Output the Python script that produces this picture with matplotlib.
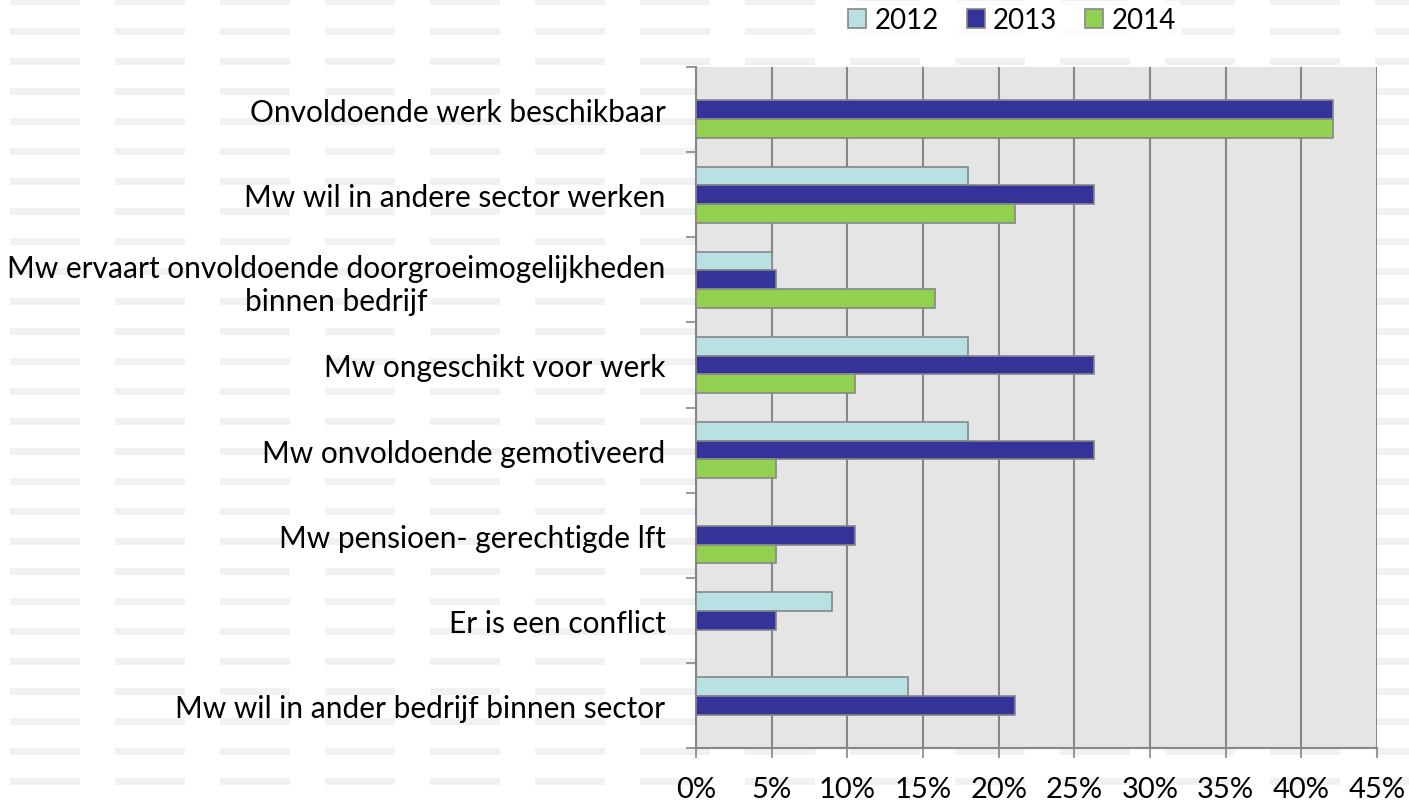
import numpy as np
import matplotlib
matplotlib.use('Agg')
import matplotlib.pyplot as plt
from matplotlib.patches import Rectangle

plt.rcParams['font.family'] = ['Lato', 'DejaVu Sans']

# data (percentages)
categories = ['Onvoldoende werk beschikbaar',
              'Mw wil in andere sector werken',
              'Mw ervaart onvoldoende doorgroeimogelijkheden\nbinnen bedrijf',
              'Mw ongeschikt voor werk',
              'Mw onvoldoende gemotiveerd',
              'Mw pensioen- gerechtigde lft',
              'Er is een conflict',
              'Mw wil in ander bedrijf binnen sector']
years = ['2012', '2013', '2014']
v2012 = [0, 18.0, 5.0, 18.0, 18.0, 0, 9.0, 14.0]
v2013 = [42.1, 26.3, 5.3, 26.3, 26.3, 10.5, 5.3, 21.05]
v2014 = [42.1, 21.05, 15.8, 10.5, 5.3, 5.3, 0, 0]
colors = ['#b9e0e3', '#333399', '#92d050']

W, H = 1409, 804
fig = plt.figure(figsize=(W / 100, H / 100), dpi=100)

# slide background with light dashes
bg = fig.add_axes([0, 0, 1, 1], zorder=-10)
bg.set_xlim(0, W)
bg.set_ylim(H, 0)
bg.axis('off')
for x0 in range(10, W, 105):
    for y0 in range(-1, H, 30):
        bg.add_patch(Rectangle((x0, y0), 70, 7, color='#f1f1f1', lw=0))

ax = fig.add_axes([696 / W, 1 - 749 / H, (1377 - 696) / W, (749 - 68) / H])
ax.set_facecolor('#e5e5e5')

y = np.arange(len(categories))
h = 0.22
for k, vals in enumerate([v2012, v2013, v2014]):
    ax.barh(y + (k - 1) * h, vals, height=h, color=colors[k],
            edgecolor='#878787', linewidth=1.2, label=years[k], zorder=3)

ax.set_xlim(0, 45)
ax.set_ylim(len(categories) - 0.5, -0.5)
ax.set_xticks(np.arange(0, 46, 5))
ax.set_xticklabels([f'{t}%' for t in range(0, 46, 5)], fontsize=21)
ax.set_yticks(y)
ax.set_yticklabels(categories, fontsize=21.5, multialignment='center')
ax.set_yticks(np.arange(-0.5, len(categories)), minor=True)
ax.tick_params(axis='y', which='major', length=0, pad=22)
ax.tick_params(axis='y', which='minor', length=7, color='#878787', width=1.2)
ax.tick_params(axis='x', length=7, color='#878787', width=1.2, pad=13)
ax.grid(axis='x', color='#878787', linewidth=1.5, zorder=1)
ax.set_axisbelow(True)
for s in ['top', 'right']:
    ax.spines[s].set_visible(False)
for s in ['left', 'bottom']:
    ax.spines[s].set_color('#878787')
    ax.spines[s].set_linewidth(1.5)

leg = fig.legend(loc='center', bbox_to_anchor=(1012 / W, 1 - 21 / H), ncol=3,
                 fontsize=20, frameon=True, handlelength=0.65, handleheight=0.65,
                 handletextpad=0.3, columnspacing=1.0, borderpad=0.2)
leg.get_frame().set_facecolor('white')
leg.get_frame().set_edgecolor('white')

fig.savefig('out.png', dpi=100)
